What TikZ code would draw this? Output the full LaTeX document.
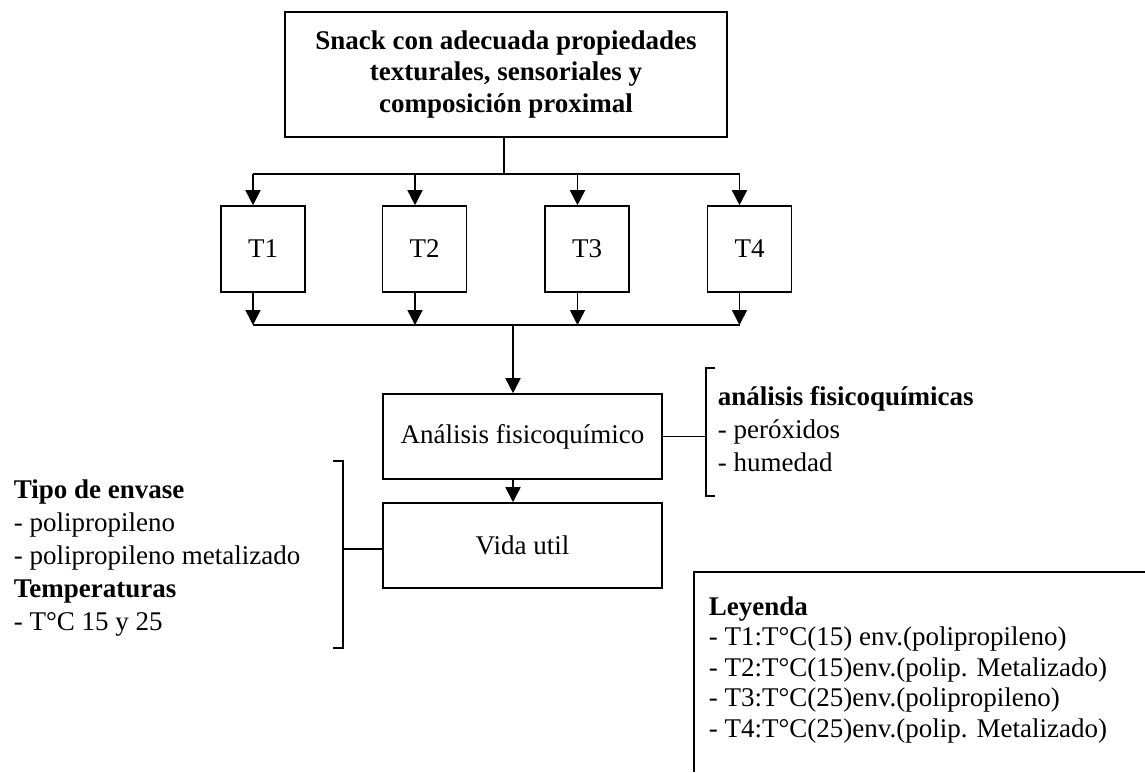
\documentclass[tikz,border=0pt]{standalone}
\usepackage{fontspec}
\setmainfont{Liberation Serif}
\usetikzlibrary{arrows.meta}
\begin{document}
\begin{tikzpicture}[x=1pt,y=-1pt,
  line width=1.6pt,
  font=\fontsize{27}{33}\selectfont,
  box/.style={draw, line width=1.6pt, inner sep=0pt, align=center},
  tbox/.style={box, minimum width=84, minimum height=86},
  wbox/.style={box, minimum width=279, minimum height=85},
  flow/.style={-{Triangle[width=15pt,length=15pt]}},
  lbl/.style={inner sep=0pt, anchor=base west, align=left},
]
\useasboundingbox (0,0) rectangle (1145,772);

% main product
\node[box, minimum width=442, minimum height=125,
      font=\bfseries\fontsize{27}{31.5}\selectfont] (top) at (506,74.5)
  {Snack con adecuada propiedades\\texturales, sensoriales y\\composición proximal};

% treatments
\node[tbox] (t1) at (263,249) {T1};
\node[tbox] (t2) at (424.5,249) {T2};
\node[tbox] (t3) at (587,249) {T3};
\node[tbox] (t4) at (749.5,249) {T4};

% analysis and shelf life
\node[wbox] (ana) at (522.5,436.5) {Análisis fisicoquímico};
\node[wbox] (vida) at (522.5,545.5) {Vida util};

% distribution to the treatments
\coordinate (split) at (504,174);
\coordinate (a1) at (253,174);
\coordinate (a2) at (415,174);
\coordinate (a3) at (577.5,174);
\coordinate (a4) at (739.5,174);
\draw (split |- top.south) -- (split);
\draw (a1) -- (a4);
\draw[flow] (a1) -- (a1 |- t1.north);
\draw[flow] (a2) -- (a2 |- t2.north);
\draw[flow] (a3) -- (a3 |- t3.north);
\draw[flow] (a4) -- (a4 |- t4.north);

% collection from the treatments
\coordinate (b1) at (253,325);
\coordinate (b2) at (415,325);
\coordinate (b3) at (577.5,325);
\coordinate (b4) at (739.5,325);
\coordinate (join) at (513,325);
\draw[flow] (b1 |- t1.south) -- (b1);
\draw[flow] (b2 |- t2.south) -- (b2);
\draw[flow] (b3 |- t3.south) -- (b3);
\draw[flow] (b4 |- t4.south) -- (b4);
\draw (b1) -- (b4);
\draw[flow] (join) -- (join |- ana.north);
\draw[flow] (ana.south -| join) -- (vida.north -| join);

% bracket of the analyses (node anchored at the baseline of its last line)
\coordinate (rb) at (706,436.5);
\draw (ana.east) -- (rb);
\draw (715,368) -- (706,368) -- (706,496) -- (715,496);
\node[lbl] (fq) at (717,471)
  {\textbf{análisis fisicoquímicas}\\- peróxidos\\- humedad};

% bracket of the packaging and temperatures
\coordinate (lb) at (343,549);
\draw (lb) -- (lb -| vida.west);
\draw (333,461) -- (343,461) -- (343,648) -- (333,648);
\node[lbl] (env) at (13,630)
  {\textbf{Tipo de envase}\\- polipropileno\\- polipropileno metalizado\\\textbf{Temperaturas}\\- T°C 15 y 25};

% legend
\draw[line width=2.6pt] (1145,572) -- (694,572) -- (694,772);
\node[lbl, font=\fontsize{27}{30.5}\selectfont] (ley) at (708,737)
  {\textbf{Leyenda}\\- T1:T°C(15) env.(polipropileno)\\- T2:T°C(15)env.(polip. Metalizado)\\- T3:T°C(25)env.(polipropileno)\\- T4:T°C(25)env.(polip. Metalizado)};
\end{tikzpicture}
\end{document}
